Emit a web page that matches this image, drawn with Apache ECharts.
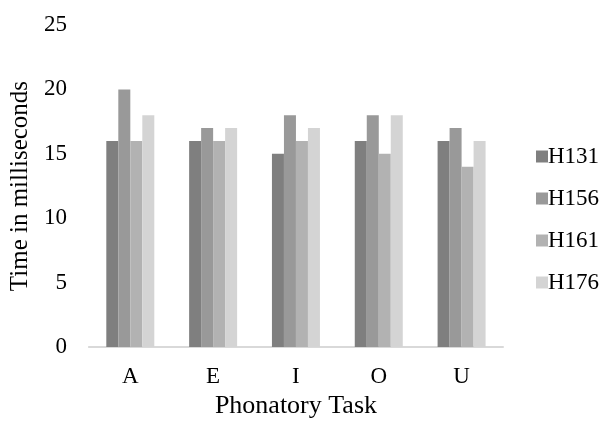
<!DOCTYPE html>
<html><head><meta charset="utf-8">
<script src="https://cdn.jsdelivr.net/npm/echarts@6/dist/echarts.min.js"></script>
<style>html,body{margin:0;padding:0;background:#fff}#c{width:612px;height:424px}</style>
</head><body><div id="c"></div>
<script>
const categories = ['A','E','I','O','U'];
const seriesNames = ['H131','H156','H161','H176'];
const H131 = [16,16,15,16,16];
const H156 = [20,17,18,18,17];
const H161 = [16,16,16,15,14];
const H176 = [18,17,17,18,16];
const colors = ['#7f7f7f','#999999','#b2b2b2','#d4d4d4'];
const values = [H131,H156,H161,H176];
const font = 'Liberation Serif, Times New Roman, serif';
const chart = echarts.init(document.getElementById('c'));
chart.setOption({
  animation:false,
  textStyle:{fontFamily:font},
  grid:{left:86,right:109,top:25,bottom:69,containLabel:false},
  legend:{
    orient:'vertical', left:531, top:140, itemWidth:12, itemHeight:12, itemGap:19,
    icon:'rect',
    textStyle:{fontFamily:font,fontSize:23,lineHeight:23,color:'#000',padding:[0,0,0,-5]},
    data:seriesNames
  },
  xAxis:{
    type:'category', data:categories,
    axisLine:{lineStyle:{color:'#d9d9d9',width:2}},
    axisTick:{show:false},
    axisLabel:{fontFamily:font,fontSize:23,color:'#000',margin:18},
    name:'Phonatory Task', nameLocation:'middle', nameGap:44,
    nameTextStyle:{fontFamily:font,fontSize:26,color:'#000'}
  },
  yAxis:{
    type:'value', min:0, max:25, interval:5,
    axisLine:{show:false}, axisTick:{show:false}, splitLine:{show:false},
    axisLabel:{fontFamily:font,fontSize:23,color:'#000',margin:22},
    name:'Time in milliseconds', nameLocation:'middle', nameGap:45,
    nameTextStyle:{fontFamily:font,fontSize:25,color:'#000'}
  },
  series: seriesNames.map((n,i)=>({
    name:n, type:'bar', data:values[i], barWidth:12, barGap:'0%',
    itemStyle:{color:colors[i]}
  }))
});
</script></body></html>
